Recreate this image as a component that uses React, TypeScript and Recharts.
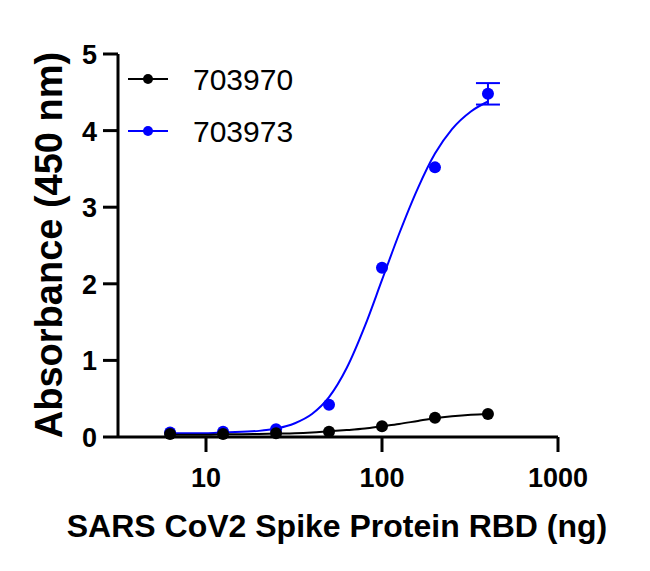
import { ComposedChart, Line, Scatter, XAxis, YAxis, ErrorBar } from 'recharts';

const FONT = 'Liberation Sans, Arial, sans-serif';

// measured points (ng of RBD vs A450)
const doses = [6.25, 12.5, 25, 50, 100, 200, 400];
const od703970 = [0.04, 0.04, 0.05, 0.07, 0.14, 0.25, 0.3];
const od703973 = [0.06, 0.07, 0.1, 0.42, 2.21, 3.52, 4.48];
const sd703973 = [0, 0, 0, 0, 0, 0, 0.14];

// fitted curves
const curveX = [6.25, 8, 10, 12.5, 16, 20, 25, 32, 40, 50, 63, 80, 100, 125, 160, 200, 250, 320, 400];
const fit703970 = [0.03, 0.03, 0.03, 0.035, 0.037, 0.04, 0.045, 0.05, 0.06, 0.075, 0.09, 0.11, 0.14, 0.17, 0.21, 0.245, 0.27, 0.29, 0.3];
const fit703973 = [0.05, 0.05, 0.05, 0.06, 0.07, 0.08, 0.11, 0.18, 0.3, 0.52, 0.9, 1.45, 2.05, 2.65, 3.25, 3.7, 4.02, 4.25, 4.38];

const xTicks = [10, 100, 1000];
const yTicks = [0, 1, 2, 3, 4, 5];

const pts970 = doses.map((x, i) => ({ x, y: od703970[i] }));
const pts973 = doses.map((x, i) => ({ x, y: od703973[i], err: sd703973[i] }));
const line970 = curveX.map((x, i) => ({ x, y: fit703970[i] }));
const line973 = curveX.map((x, i) => ({ x, y: fit703973[i] }));

const dot = (color: string) => (props: any) => (
  <circle cx={props.cx} cy={props.cy} r={6} fill={color} />
);

const XTick = (props: any) => (
  <text x={props.x} y={487} textAnchor="middle" fontFamily={FONT} fontWeight="bold" fontSize={27} fill="#000">
    {props.payload.value}
  </text>
);

const YTick = (props: any) => (
  <text x={97} y={props.y + 10} textAnchor="end" fontFamily={FONT} fontWeight="bold" fontSize={27} fill="#000">
    {props.payload.value}
  </text>
);

export default function App() {
  return (
    <div style={{ position: 'absolute', left: 0, top: 0, width: 650, height: 571, background: '#fff' }}>
      <ComposedChart width={650} height={571} margin={{ top: 54, right: 92, left: 0, bottom: 0 }}>
        <XAxis
          dataKey="x"
          type="number"
          scale="log"
          domain={[3.1623, 1000]}
          allowDataOverflow
          ticks={xTicks}
          height={134}
          tickSize={15}
          tick={<XTick />}
          axisLine={{ stroke: '#000', strokeWidth: 3 }}
          tickLine={{ stroke: '#000', strokeWidth: 3 }}
        />
        <YAxis
          type="number"
          domain={[0, 5]}
          ticks={yTicks}
          width={118}
          tickSize={15}
          tick={<YTick />}
          axisLine={{ stroke: '#000', strokeWidth: 3 }}
          tickLine={{ stroke: '#000', strokeWidth: 3 }}
        />
        <Line data={line973} dataKey="y" type="monotone" stroke="#0000ff" strokeWidth={2} dot={false} isAnimationActive={false} />
        <Scatter data={pts973} dataKey="y" fill="#0000ff" shape={dot('#0000ff')} isAnimationActive={false}>
          <ErrorBar dataKey="err" direction="y" width={12} stroke="#0000ff" strokeWidth={2} />
        </Scatter>
        <Line data={line970} dataKey="y" type="monotone" stroke="#000" strokeWidth={2} dot={false} isAnimationActive={false} />
        <Scatter data={pts970} dataKey="y" fill="#000" shape={dot('#000')} isAnimationActive={false} />
      </ComposedChart>
      <svg width={650} height={571} style={{ position: 'absolute', left: 0, top: 0, pointerEvents: 'none' }}>
        <g fontFamily={FONT} fontSize={30} fill="#000">
          <line x1={128} y1={79} x2={168} y2={79} stroke="#000" strokeWidth={2} />
          <circle cx={148} cy={79} r={5} fill="#000" />
          <text x={193} y={90}>703970</text>
          <line x1={128} y1={131} x2={168} y2={131} stroke="#0000ff" strokeWidth={2} />
          <circle cx={148} cy={131} r={5} fill="#0000ff" />
          <text x={193} y={142}>703973</text>
        </g>
        <text x={62} y={245} transform="rotate(-90, 62, 245)" textAnchor="middle" fontFamily={FONT} fontWeight="bold" fontSize={38} fill="#000">
          Absorbance (450 nm)
        </text>
        <text x={337} y={537} textAnchor="middle" fontFamily={FONT} fontWeight="bold" fontSize={32} fill="#000">
          SARS CoV2 Spike Protein RBD (ng)
        </text>
      </svg>
    </div>
  );
}
